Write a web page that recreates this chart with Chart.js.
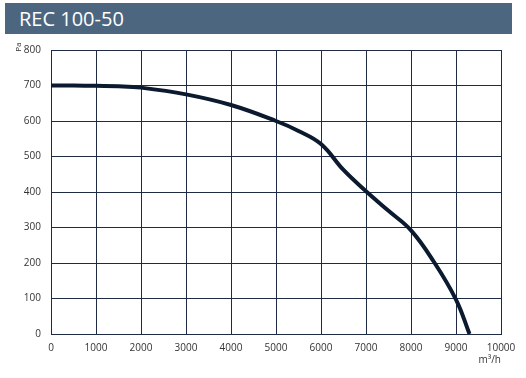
<!DOCTYPE html>
<html>

<head>
  <title>REC 100-50</title>
  <script src="https://cdn.jsdelivr.net/npm/chart.js"></script>
  <style>
    body { margin: 0; background: #fff; }
    #head {
      position: absolute; left: 5px; top: 3px; width: 507px; height: 31px;
      background: #4c6680; color: #fff;
      font-family: "Open Sans", sans-serif; font-size: 20px; line-height: 31px;
      padding-left: 14px; box-sizing: border-box;
    }
    #wrap { position: absolute; left: 0; top: 0; width: 526px; height: 378px; }
  </style>
</head>

<body>
  <div id="wrap"><canvas id="curve"></canvas></div>
  <div id="head">REC 100-50</div>
  <script>
    // air flow m3/h and pressure Pa
    var flow = [0, 500, 1000, 1500, 2000, 3000, 4000, 5000, 5500, 6000, 6500, 7000, 7500, 8000, 8500, 9000, 9300];
    var pressure = [700, 700, 699, 698, 694, 675, 645, 600, 572, 535, 462, 402, 347, 292, 205, 97, 0];

    var xMax = 10000, xStep = 1000;
    var yMax = 800, yStep = 100;
    var yUnit = 'Pa', xUnit = 'm³/h';

    var points = flow.map(function (f, i) { return { x: f, y: pressure[i] }; });

    var gridColor = '#1f2b45';
    Chart.defaults.font.family = '"Open Sans", sans-serif';
    Chart.defaults.font.size = 10;
    Chart.defaults.color = '#333';

    // "Pa" sits rotated just left of the 800 label
    var unitLabel = {
      id: 'unitLabel',
      afterDraw: function (c) {
        var g = c.ctx;
        g.save();
        g.translate(19, 47);
        g.rotate(-Math.PI / 2);
        g.font = '8px "Open Sans", sans-serif';
        g.fillStyle = '#333';
        g.textAlign = 'center';
        g.textBaseline = 'middle';
        g.fillText(yUnit, 0, 0);
        g.restore();
      }
    };

    var ctx = document.getElementById('curve').getContext('2d');
    var chart = new Chart(ctx, {
      type: 'line',
      data: {
        datasets: [{
          data: points,
          borderColor: '#0b1a2e',
          borderWidth: 4,
          pointRadius: 0,
          tension: 0.4,
          fill: false
        }]
      },
      options: {
        responsive: true,
        maintainAspectRatio: false,
        animation: false,
        layout: { padding: { top: 50, right: 25, left: 0, bottom: 12 } },
        plugins: { legend: { display: false }, tooltip: { enabled: false } },
        scales: {
          x: {
            type: 'linear',
            min: 0, max: xMax,
            grid: { color: gridColor, drawTicks: false },
            border: { color: gridColor },
            ticks: {
              stepSize: xStep, padding: 8, maxRotation: 0,
              callback: function (v) { return String(v); }
            },
            title: { display: true, text: xUnit, align: 'end', padding: 0 },
            afterFit: function (s) { s.height = 32; }
          },
          y: {
            min: 0, max: yMax,
            grid: { color: gridColor, drawTicks: false },
            border: { color: gridColor },
            ticks: { stepSize: yStep, padding: 10 },
            afterFit: function (s) { s.width = 51; }
          }
        }
      },
      plugins: [unitLabel]
    });
  </script>
</body>

</html>
